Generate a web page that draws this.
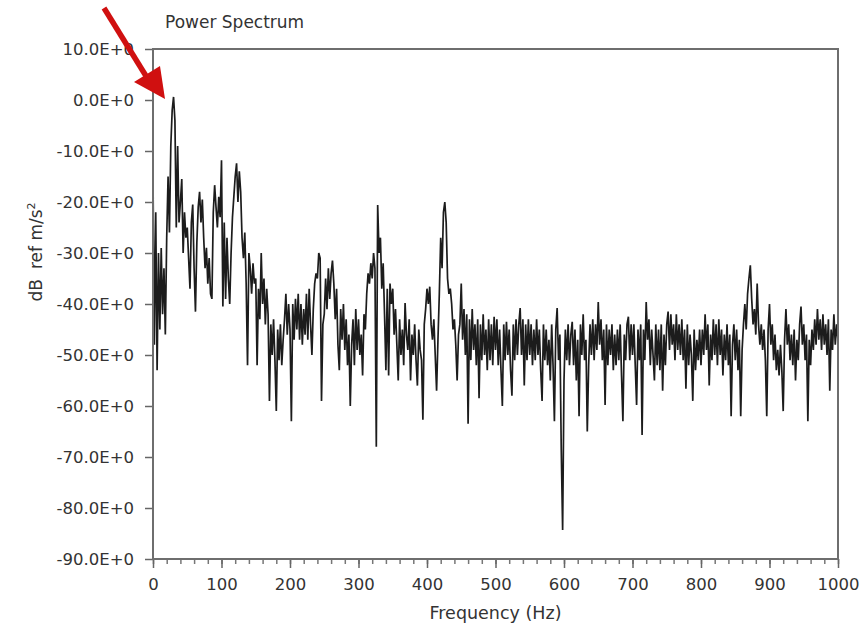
<!DOCTYPE html>
<html>
<head>
<meta charset="utf-8">
<script src="https://cdn.jsdelivr.net/npm/d3@7"></script>
<style>
  body { margin: 0; background: #fff; }
  text { font-family: "DejaVu Sans", Verdana, sans-serif; fill: #333; }
</style>
</head>
<body>
<svg id="chart"></svg>
<script>
// spectrum in dB ref m/s^2, one value every 2 Hz from 0 to 1000 Hz
const freqStep = 2;
const powerDb = [
  // 0 - 48 Hz
  -15, -48, -22, -53, -30, -45, -29, -42, -33, -46, -27, -15, -26, -9, -2, 0.6, -4, -25, -9, -24, -20, -15.5, -30, -22, -27,
  // 50 - 98 Hz
  -25, -31, -37, -24, -20.5, -33, -41.5, -28, -21, -18, -24, -19.5, -27, -33, -29, -36, -31, -38, -39, -22, -16.7, -21, -25, -19, -23,
  // 100 - 148 Hz
  -11.8, -40.5, -24, -39, -27, -35, -40, -30, -23, -19, -15, -12.4, -20, -14, -18, -27, -31, -26, -36, -52, -30, -33, -38, -32, -36,
  // 150 - 198 Hz
  -35, -52, -37, -43, -30, -40, -35, -44, -37, -42, -59, -44, -50, -43, -51, -61, -45, -51, -44, -52, -47, -43, -38, -46, -40,
  // 200 - 248 Hz
  -45, -63, -40, -47, -39, -45, -38, -47, -40, -48, -41, -46, -38, -47, -37, -44, -50, -41, -36, -34, -35, -30, -31, -59, -44,
  // 250 - 298 Hz
  -42, -35, -41, -33, -39, -34, -31.5, -36, -43, -37, -48, -53, -41, -47, -40, -49, -43, -52, -46, -60, -48, -43, -52, -41, -49,
  // 300 - 348 Hz
  -43, -50, -46, -54, -42, -45, -38, -34, -36, -32, -35, -30, -33, -68, -20.6, -30, -27, -37, -32, -42, -53, -37, -54, -36, -40,
  // 350 - 398 Hz
  -37, -46, -41, -48, -55, -43, -50, -45, -52, -39.8, -46, -49, -43, -55, -46, -50, -44, -51, -56, -45, -49, -51, -62.7, -44, -41,
  // 400 - 448 Hz
  -37, -40, -36.6, -44, -47, -43, -50, -57, -47, -38, -27, -33, -22, -20, -24, -35, -38, -37, -40, -45, -43, -48, -55, -46, -44,
  // 450 - 498 Hz
  -36, -47, -41, -50, -42, -63.5, -43, -51, -41, -49, -44, -52, -43, -58.5, -44, -51, -42, -50, -45, -53, -43, -51, -44, -52, -42.5,
  // 500 - 548 Hz
  -49, -43, -52, -45, -53, -60, -44, -51, -43.5, -50, -45, -53, -58, -44, -51, -43, -50, -44, -40.8, -50, -43, -56, -44, -51, -43,
  // 550 - 598 Hz
  -50, -44, -52, -45, -51, -43, -50, -45, -53, -59, -44, -51, -45, -52, -47, -55, -44, -52, -63, -45, -40.8, -51, -46, -68.6, -84.3,
  // 600 - 648 Hz
  -55, -45, -51, -44, -52, -46, -43.5, -52, -45, -55, -47, -62, -44, -50, -42, -51, -47, -65, -52, -44, -50, -43, -51, -44, -49,
  // 650 - 698 Hz
  -39.6, -48, -43, -51, -45, -59.8, -44, -52, -45, -50, -44, -53, -46, -52, -45, -51, -44, -54, -63, -46, -51, -44, -42.5, -51, -44,
  // 700 - 748 Hz
  -50, -44, -52, -59.8, -45, -51, -44, -65.7, -45, -51, -39.6, -47, -43, -52, -45, -50, -55, -44, -52, -45, -53, -44, -57, -46, -52,
  // 750 - 798 Hz
  -44, -41.5, -49, -42, -48, -44, -51, -42, -49, -44, -50, -43, -51, -45, -56.6, -44, -52, -46, -50, -59, -45, -53, -47, -51, -45,
  // 800 - 848 Hz
  -52, -45, -50, -42, -49, -44, -56, -46, -51, -43, -50, -44, -52, -43, -50, -45, -54, -46, -51, -44, -52, -46, -62, -48, -44,
  // 850 - 898 Hz
  -51, -45, -53, -47, -62, -49, -44, -40, -45, -38, -35, -32.4, -39, -44, -41, -46, -36, -44, -48, -44, -49, -45, -51, -62, -45,
  // 900 - 948 Hz
  -40, -48, -44, -51, -46, -53, -49, -54, -48, -53, -61, -47, -41, -48, -44, -51, -46, -52, -45, -55, -47, -51, -44, -40.5, -48,
  // 950 - 1000 Hz
  -44, -51, -46, -63, -47, -52, -45, -49, -43, -48, -41, -47, -43, -49, -42, -48, -44, -50, -43, -57, -45, -49, -42, -48, -44,
  -47
];

const yTicks = [10, 0, -10, -20, -30, -40, -50, -60, -70, -80, -90];
const xMajorTicks = [0, 100, 200, 300, 400, 500, 600, 700, 800, 900, 1000];
const xMinorTicks = d3.range(0, 1001, 20);

const chartTitle = "Power Spectrum";
const xLabel = "Frequency (Hz)";

const width = 868;
const height = 625;
const margin = { top: 49, right: 30, bottom: 66, left: 153 };

const svg = d3
  .select("#chart")
  .attr("width", width)
  .attr("height", height);

const x = d3
  .scaleLinear()
  .domain([0, 1000])
  .range([margin.left, width - margin.right]);

const y = d3
  .scaleLinear()
  .domain([-90, 10])
  .range([height - margin.bottom, margin.top]);

const data = powerDb.map((v, i) => ({ f: i * freqStep, db: v }));

svg
  .append("clipPath")
  .attr("id", "plot-clip")
  .append("rect")
  .attr("x", x(0))
  .attr("y", y(10))
  .attr("width", x(1000) - x(0))
  .attr("height", y(-90) - y(10));

// trace
const line = d3
  .line()
  .x((d) => x(d.f))
  .y((d) => y(d.db));

svg
  .append("path")
  .datum(data)
  .attr("clip-path", "url(#plot-clip)")
  .attr("d", line)
  .attr("fill", "none")
  .attr("stroke", "#1c1c1c")
  .attr("stroke-width", 1.7)
  .attr("stroke-linejoin", "miter");

// y axis
const yAxis = d3
  .axisLeft(y)
  .tickValues(yTicks)
  .tickSize(8)
  .tickPadding(11)
  .tickFormat((d) => d.toFixed(1) + "E+0");

const yg = svg
  .append("g")
  .attr("transform", `translate(${x(0)},0)`)
  .call(yAxis);

yg.select(".domain").remove();
yg.selectAll(".tick line").attr("stroke", "#666").attr("stroke-width", 1.5);
yg.selectAll(".tick text")
  .attr("fill", "#333")
  .style("font-size", "16.5px")
  .style("font-family", '"DejaVu Sans", Verdana, sans-serif');

// x axis, minor then major
const xMinor = d3
  .axisBottom(x)
  .tickValues(xMinorTicks)
  .tickSize(5)
  .tickFormat("");

const xm = svg
  .append("g")
  .attr("transform", `translate(0,${y(-90)})`)
  .call(xMinor);
xm.select(".domain").remove();
xm.selectAll(".tick line").attr("stroke", "#777").attr("stroke-width", 1.5);

const xAxis = d3
  .axisBottom(x)
  .tickValues(xMajorTicks)
  .tickSize(9)
  .tickPadding(10)
  .tickFormat(d3.format("d"));

const xg = svg
  .append("g")
  .attr("transform", `translate(0,${y(-90)})`)
  .call(xAxis);

xg.select(".domain").remove();
xg.selectAll(".tick line").attr("stroke", "#666").attr("stroke-width", 1.5);
xg.selectAll(".tick text")
  .attr("fill", "#333")
  .style("font-size", "16.5px")
  .style("font-family", '"DejaVu Sans", Verdana, sans-serif');

// plot frame
svg
  .append("rect")
  .attr("x", x(0))
  .attr("y", y(10))
  .attr("width", x(1000) - x(0))
  .attr("height", y(-90) - y(10))
  .attr("fill", "none")
  .attr("stroke", "#6e6e6e")
  .attr("stroke-width", 2);

// labels
svg
  .append("text")
  .attr("x", 165)
  .attr("y", 28)
  .style("font-size", "17px")
  .text(chartTitle);

svg
  .append("text")
  .attr("x", (x(0) + x(1000)) / 2)
  .attr("y", 619)
  .attr("text-anchor", "middle")
  .style("font-size", "17.5px")
  .text(xLabel);

const yLab = svg
  .append("text")
  .attr("transform", "translate(42,252) rotate(-90)")
  .attr("text-anchor", "middle")
  .style("font-size", "17px");
yLab.append("tspan").text("dB");
yLab.append("tspan").attr("dx", 10).text("ref m/s");
yLab
  .append("tspan")
  .attr("dy", -7)
  .style("font-size", "11px")
  .text("2");

// red annotation arrow pointing at the main peak
svg
  .append("line")
  .attr("x1", 104)
  .attr("y1", 8)
  .attr("x2", 146)
  .attr("y2", 76)
  .attr("stroke", "#d01010")
  .attr("stroke-width", 5.5);

svg
  .append("path")
  .attr("d", "M165,99 L134,82 L160,66 Z")
  .attr("fill", "#d01010");
</script>
</body>
</html>
